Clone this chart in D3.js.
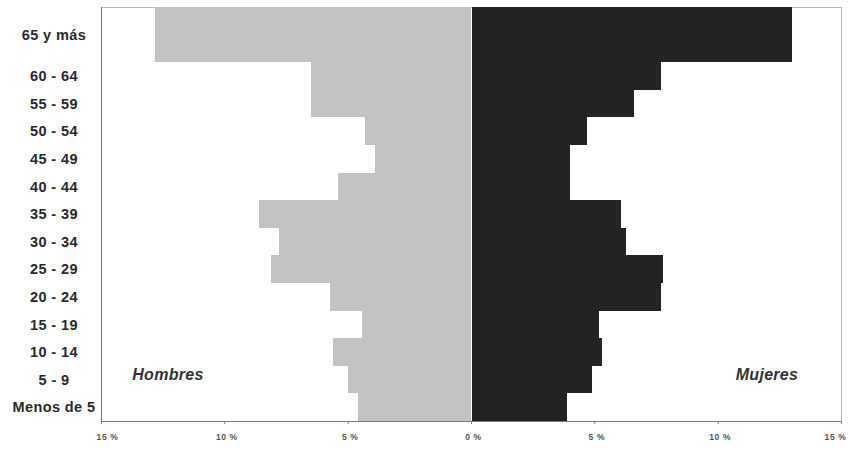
<!DOCTYPE html>
<html><head><meta charset="utf-8">
<script src="https://cdn.jsdelivr.net/npm/d3@7/dist/d3.min.js"></script>
<style>body{margin:0;background:#fff}svg{display:block}</style>
</head><body>
<script>
const ageGroups = ["Menos de 5","5 - 9","10 - 14","15 - 19","20 - 24","25 - 29","30 - 34","35 - 39","40 - 44","45 - 49","50 - 54","55 - 59","60 - 64","65 y más"];
const ageStart = [0,5,10,15,20,25,30,35,40,45,50,55,60,65];
const ageEnd   = [5,10,15,20,25,30,35,40,45,50,55,60,65,75];
const hombres = [4.6,5.0,5.6,4.4,5.7,8.1,7.8,8.6,5.4,3.9,4.3,6.5,6.5,12.8];
const mujeres = [3.9,4.9,5.3,5.2,7.7,7.8,6.3,6.1,4.0,4.0,4.7,6.6,7.7,13.0];
const xTicks = [-15,-10,-5,0,5,10,15];
const xTickLabels = ["15 %","10 %","5 %","0 %","5 %","10 %","15 %"];

(function(){
const W=848,H=449;
const svg=d3.select("body").append("svg").attr("width",W).attr("height",H);
const pl=101,pr=841,pt=7,pb=421;
const x=d3.scaleLinear().domain([-15,15]).range([pl,pr]);
const y=d3.scaleLinear().domain([0,75]).range([pb,pt]);
const font="Liberation Sans, Arial, sans-serif";

const data=ageGroups.map((g,i)=>({g,s:ageStart[i],e:ageEnd[i],h:hombres[i],m:mujeres[i]}));

// frame
svg.append("rect").attr("x",pl+0.5).attr("y",pt+0.5).attr("width",pr-pl).attr("height",pb-pt)
  .attr("fill","none").attr("stroke","#b8b8b8").attr("stroke-width",1);

svg.selectAll("rect.h").data(data).enter().append("rect").attr("class","h")
  .attr("x",d=>x(-d.h)).attr("width",d=>x(0)-x(-d.h))
  .attr("y",d=>y(d.e)).attr("height",d=>y(d.s)-y(d.e))
  .attr("fill","#c3c3c3").attr("shape-rendering","crispEdges");
svg.selectAll("rect.m").data(data).enter().append("rect").attr("class","m")
  .attr("x",x(0)+1).attr("width",d=>x(d.m)-x(0)-1)
  .attr("y",d=>y(d.e)).attr("height",d=>y(d.s)-y(d.e))
  .attr("fill","#232323").attr("shape-rendering","crispEdges");

// left axis line and bottom axis
svg.append("line").attr("x1",pl+0.5).attr("x2",pl+0.5).attr("y1",pt).attr("y2",pb)
  .attr("stroke","#7a7a7a");
const xAxis=d3.axisBottom(x).tickValues(xTicks).tickSize(3).tickFormat((d,i)=>xTickLabels[i]);
const gx=svg.append("g").attr("transform",`translate(0,${pb})`).call(xAxis);
gx.select(".domain").attr("stroke","#7a7a7a");
gx.selectAll(".tick line").attr("stroke","#7a7a7a");
gx.selectAll(".tick text").attr("dy","1.55em").attr("font-family",font)
  .attr("font-size",8.5).attr("font-weight","bold").attr("letter-spacing","0.6px").attr("fill","#555")
  .attr("dx",(d,i)=>i===xTicks.length-1?-6:(i===0?6:2));

// y labels
svg.selectAll("text.age").data(data).enter().append("text").attr("class","age")
  .attr("x",54).attr("y",d=>y((d.s+d.e)/2)).attr("dy","0.36em")
  .attr("text-anchor","middle").attr("font-family",font)
  .attr("font-size",14.5).attr("font-weight","bold").attr("letter-spacing","0.4px").attr("fill","#2a2a2a").text(d=>d.g);

// group labels
svg.append("text").attr("x",168).attr("y",380).attr("text-anchor","middle")
  .attr("font-family",font).attr("font-size",16).attr("letter-spacing","0.3px")
  .attr("font-weight","bold").attr("font-style","italic").attr("fill","#333").text("Hombres");
svg.append("text").attr("x",767).attr("y",380).attr("text-anchor","middle")
  .attr("font-family",font).attr("font-size",16).attr("letter-spacing","0.3px")
  .attr("font-weight","bold").attr("font-style","italic").attr("fill","#333").text("Mujeres");
})();
</script>
</body></html>
